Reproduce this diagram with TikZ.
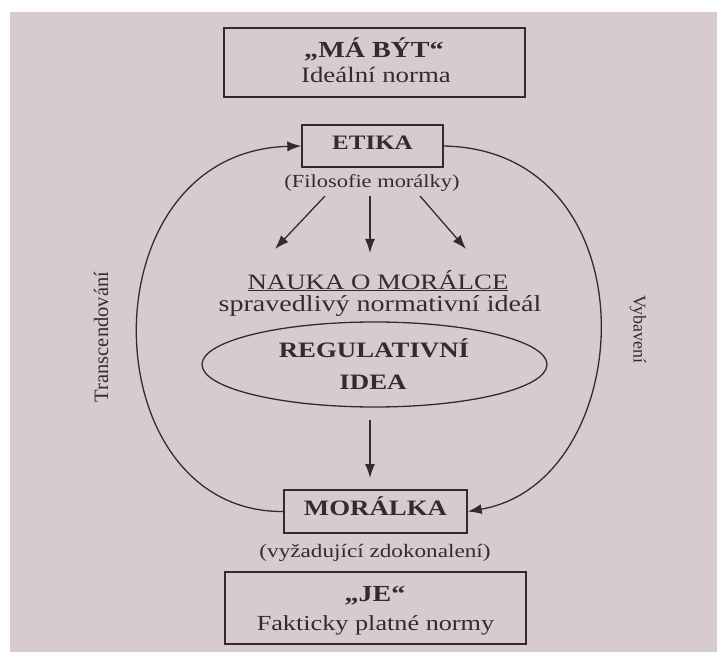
\documentclass[tikz,border=0pt]{standalone}
\usepackage{fontspec}
\setmainfont{Liberation Serif}[FakeStretch=1.22]
\newfontfamily\sidefont{Liberation Serif}
\usetikzlibrary{arrows.meta,shapes.geometric}
\definecolor{page}{RGB}{216,203,208}
\definecolor{ink}{RGB}{50,44,50}
\tikzset{
  boxnode/.style={draw=ink,line width=1.4pt,rectangle,inner sep=0pt},
  txt/.style={text=ink,inner sep=0pt,anchor=base},
  link/.style={draw=ink,line width=1.3pt,-{Latex[length=14pt,width=10pt]}},
}
\begin{document}
\begin{tikzpicture}[x=1pt,y=-1pt]
\useasboundingbox (0,0) rectangle (717,652);
\fill[white] (0,0) rectangle (717,652);
\fill[page] (10,12) rectangle (717,652);

% top box
\node[boxnode,minimum width=301pt,minimum height=69pt] (mabyt) at (374.5,62.5) {};
\node[txt,font=\fontsize{23}{25}\selectfont\bfseries] (mabyt1) at (374,58) {„MÁ BÝT“};
\node[txt,font=\fontsize{22}{24}\selectfont] (mabyt2) at (376,83) {Ideální norma};

% ETIKA
\node[boxnode,minimum width=141pt,minimum height=42pt] (etika) at (372.5,146) {};
\node[txt,font=\fontsize{20.5}{22}\selectfont\bfseries] (etika1) at (372.5,150) {ETIKA};
\node[txt,font=\fontsize{18.4}{20}\selectfont] (fil) at (372,188) {(Filosofie morálky)};

% three arrows
\coordinate (a1s) at (325,196); \coordinate (a1e) at (275,249);
\coordinate (a2s) at (370,196); \coordinate (a2e) at (370,253);
\coordinate (a3s) at (420,196); \coordinate (a3e) at (466,249);
\draw[link] (a1s) -- (a1e);
\draw[link] (a2s) -- (a2e);
\draw[link] (a3s) -- (a3e);

\node[txt,font=\fontsize{22}{24}\selectfont,text height=15pt,text depth=3pt] (nauka) at (378,289) {\underline{NAUKA O MORÁLCE}};
\node[txt,font=\fontsize{23}{25}\selectfont,text height=15pt,text depth=5pt] (sprav) at (380,311) {spravedlivý normativní ideál};

% ellipse
\node[draw=ink,line width=1.3pt,ellipse,minimum width=345pt,minimum height=85pt,inner sep=0pt] (reg) at (374.5,364.5) {};
\node[txt,font=\fontsize{22}{24}\selectfont\bfseries] (reg1) at (374,357) {REGULATIVNÍ};
\node[txt,font=\fontsize{22}{24}\selectfont\bfseries] (reg2) at (373,389) {IDEA};

\coordinate (dns) at (370,420); \coordinate (dne) at (370,478);
\draw[link] (dns) -- (dne);

% MORÁLKA
\node[boxnode,minimum width=183pt,minimum height=43pt] (moralka) at (375.5,511.5) {};
\node[txt,font=\fontsize{22}{24}\selectfont\bfseries] (moralka1) at (375.5,515) {MORÁLKA};
\node[txt,font=\fontsize{19}{21}\selectfont] (vyz) at (375,557) {(vyžadující zdokonalení)};

% bottom box
\node[boxnode,minimum width=301pt,minimum height=72pt] (je) at (375.5,608) {};
\node[txt,font=\fontsize{23}{25}\selectfont\bfseries] (je1) at (375,601) {„JE“};
\node[txt,font=\fontsize{21.5}{23}\selectfont] (je2) at (375.5,630) {Fakticky platné normy};

% big arcs
\draw[link] (moralka.west) .. controls (90,513) and (83,152) .. (etika.west);
\draw[link] (etika.east) .. controls (655,150) and (640,482) .. (moralka.east);

% side labels
\node[text=ink,inner sep=0pt,font=\sidefont\fontsize{20.5}{22}\selectfont,rotate=90] (trans) at (101,337) {Transcendování};
\node[text=ink,inner sep=0pt,font=\sidefont\fontsize{18}{20}\selectfont,rotate=-90] (vyb) at (638,329) {Vybavení};
\end{tikzpicture}
\end{document}
